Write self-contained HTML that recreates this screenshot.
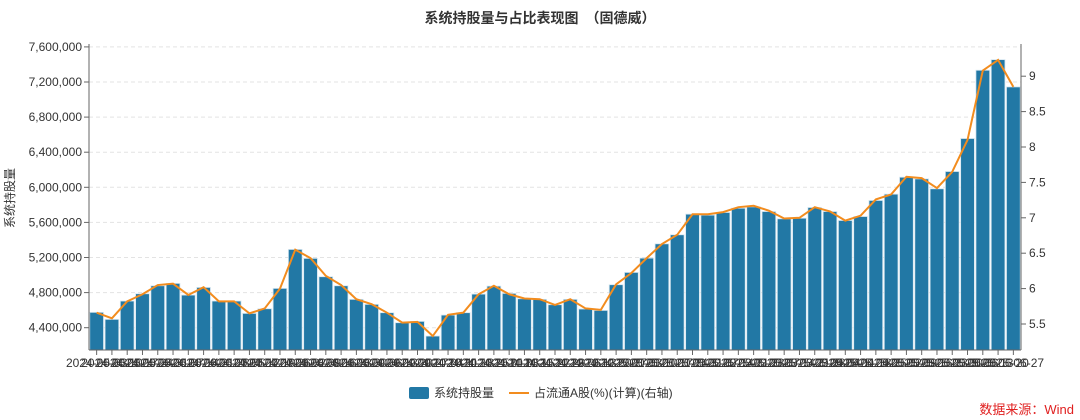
<!DOCTYPE html>
<html><head><meta charset="utf-8"><style>
html,body{margin:0;padding:0;background:#fff;width:1080px;height:420px;overflow:hidden}
svg{display:block;font-family:"Liberation Sans","Noto Sans CJK SC",sans-serif}
</style></head><body>
<svg id="chart" width="1080" height="420" viewBox="0 0 1080 420"></svg>
<script>
const holdings=[4575,4495,4704,4787,4878,4905,4772,4859,4704,4704,4563,4616,4848,5292,5190,4981,4878,4723,4666,4571,4457,4472,4305,4544,4571,4783,4874,4791,4730,4723,4662,4723,4613,4597,4890,5030,5193,5356,5459,5694,5683,5713,5762,5777,5724,5641,5648,5770,5724,5622,5667,5850,5922,6115,6096,5983,6180,6556,7334,7455,7144];
const pct=[5.66,5.58,5.82,5.92,6.05,6.07,5.91,6.02,5.82,5.82,5.65,5.72,6.0,6.55,6.43,6.18,6.05,5.85,5.78,5.66,5.52,5.53,5.33,5.63,5.66,5.92,6.04,5.92,5.86,5.85,5.77,5.85,5.72,5.70,6.06,6.22,6.43,6.63,6.76,7.05,7.05,7.08,7.15,7.17,7.10,6.99,7.0,7.15,7.09,6.96,7.03,7.26,7.33,7.58,7.56,7.42,7.65,8.1,9.08,9.23,8.85];
const leftTicks=[4400000,4800000,5200000,5600000,6000000,6400000,6800000,7200000,7600000];
const rightTicks=[5.5,6,6.5,7,7.5,8,8.5,9];
const startDate="2024-05-03";
const NS="http://www.w3.org/2000/svg";
const svg=document.getElementById('chart');
const X0=89,X1=1021,YB=350;
const yL=v=>327.7-(v-4400000)/400000*35.1;
const yR=v=>324-(v-5.5)/0.5*35.4;
const n=holdings.length, bw=(X1-X0)/n;
const xC=i=>X0+bw*(i+0.5);
function mk(t,a,txt){const e=document.createElementNS(NS,t);for(const k in a)e.setAttribute(k,a[k]);if(txt!==undefined)e.textContent=txt;svg.appendChild(e);return e;}
let e;
e=mk('text',{x:540,y:23,'text-anchor':'middle','font-size':14,'font-weight':'bold',fill:'#333'},'系统持股量与占比表现图　（固德威）');


leftTicks.forEach(v=>{const y=yL(v);
 e=mk('line',{x1:X0,x2:X1,y1:y,y2:y,stroke:'#e3e3e3','stroke-dasharray':'4,3'});
 
 
 e=mk('line',{x1:X0-5,x2:X0,y1:y,y2:y,stroke:'#666'});
 
 
 e=mk('text',{x:X0-7,y:y+4,'text-anchor':'end','font-size':12,fill:'#333'},v.toLocaleString('en-US'));
 
 
});
rightTicks.forEach(v=>{const y=yR(v);
 e=mk('line',{x1:X1,x2:X1+5,y1:y,y2:y,stroke:'#666'});
 
 
 e=mk('text',{x:X1+8,y:y+4,'font-size':12,fill:'#333'},String(v));
 
 
});
holdings.forEach((v,i)=>{const y=yL(v*1000);
 e=mk('rect',{x:xC(i)-bw*0.45,y:y,width:bw*0.9,height:YB-y,fill:'#2278a5',stroke:'#d6e6f0','stroke-width':0.8});
 
 
});
e=mk('polyline',{points:pct.map((v,i)=>xC(i)+','+yR(v)).join(' '),fill:'none',stroke:'#f28c1e','stroke-width':2});


e=mk('line',{x1:X0,x2:X0,y1:44,y2:YB,stroke:'#666'});


e=mk('line',{x1:X1,x2:X1,y1:44,y2:YB,stroke:'#666'});


e=mk('line',{x1:X0,x2:X1,y1:YB,y2:YB,stroke:'#666'});


const d0=new Date(startDate+'T00:00:00Z');
for(let i=0;i<n;i++){
 const d=new Date(d0.getTime()+i*7*86400000);
 const lab=d.toISOString().slice(0,10);
 e=mk('line',{x1:xC(i),x2:xC(i),y1:YB,y2:YB+5,stroke:'#666'});
 
 
 e=mk('text',{x:xC(i),y:YB+17,'text-anchor':'middle','font-size':12,fill:'#333'},lab);
 
 
}
e=mk('text',{x:14,y:198,'text-anchor':'middle','font-size':12,fill:'#333',transform:'rotate(-90 14 198)'},'系统持股量');


e=mk('rect',{x:409,y:387,width:20,height:12,rx:2,fill:'#2278a5'});


e=mk('text',{x:434,y:397,'font-size':12,fill:'#333'},'系统持股量');


e=mk('line',{x1:509,x2:529,y1:393,y2:393,stroke:'#f28c1e','stroke-width':2});


e=mk('text',{x:534,y:397,'font-size':12,fill:'#333'},'占流通A股(%)(计算)(右轴)');


e=mk('text',{x:1074,y:414,'text-anchor':'end','font-size':13,fill:'#e02020'},'数据来源：Wind');


</script>
</body></html>
